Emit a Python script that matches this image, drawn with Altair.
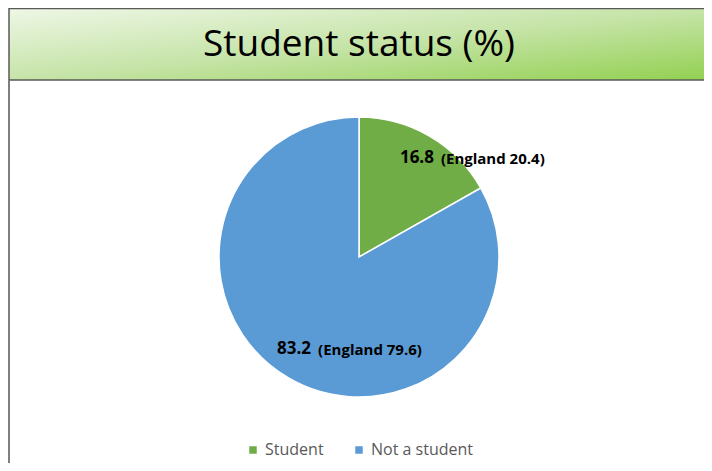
import altair as alt
import pandas as pd

# ---- data ----
categories = ["Student", "Not a student"]
values = [16.8, 83.2]
england = [20.4, 79.6]
colors = ["#70AD47", "#5B9BD5"]
title_text = "Student status (%)"

OX, OY = 8, 8  # page margin offset

df = pd.DataFrame({
    "category": categories,
    "value": values,
    "idx": list(range(len(categories))),
    "label": [f"{v}" for v in values],
    "eng": [f"(England {e})" for e in england],
})
one = pd.DataFrame({"a": [0]})

W, H = 712 - 2 * OX, 471 - 2 * OY
cx, cy, R = 359 - OX, 257 - OY, 140

gradient = alt.LinearGradient(
    gradient="linear",
    stops=[alt.GradientStop(color="#EEF7E6", offset=0),
           alt.GradientStop(color="#C6E4A8", offset=0.5),
           alt.GradientStop(color="#92D050", offset=1)],
    x1=0, x2=1, y1=0, y2=1,
)

banner = alt.Chart(one).mark_rect(color=gradient, stroke="#595959", strokeWidth=1.5).encode(
    x=alt.value(1), x2=alt.value(W + 10), y=alt.value(0.5), y2=alt.value(80 - OY)
)
left_border = alt.Chart(one).mark_rule(color="#7F7F7F", strokeWidth=2).encode(
    x=alt.value(1), y=alt.value(80 - OY), y2=alt.value(H + 10)
)
title = alt.Chart(one).mark_text(
    text=title_text, font="Open Sans", fontSize=37, color="#000000", align="center", baseline="middle"
).encode(x=alt.value(359 - OX), y=alt.value(45 - OY))

color_scale = alt.Scale(domain=categories, range=colors)

pie = alt.Chart(df).mark_arc(radius=R, stroke="white", strokeWidth=1.5).encode(
    theta=alt.Theta("value:Q", stack=True),
    color=alt.Color(
        "category:N", scale=color_scale,
        legend=alt.Legend(
            title=None, orient="none", direction="horizontal",
            legendX=245 - OX, legendY=442 - OY,
            symbolType="square", symbolSize=56, symbolStrokeWidth=0,
            labelFont="Open Sans", labelFontSize=16, labelColor="#595959",
            labelOffset=4, columnPadding=27,
        ),
    ),
    order=alt.Order("idx:Q"),
    x=alt.value(cx), y=alt.value(cy),
)


# stack needs the full data, so every label layer keeps both rows and hides the other one
def label_layers():
    out = []
    for i, (dx, dy) in enumerate([(0, 0), (-7, -7)]):
        enc = dict(
            theta=alt.Theta("value:Q", stack=True),
            order=alt.Order("idx:Q"),
            x=alt.value(cx), y=alt.value(cy),
            opacity=alt.condition(alt.datum.idx == i, alt.value(1), alt.value(0)),
            color=alt.value("#000000"),
        )
        v = alt.Chart(df).mark_text(
            radius=115, font="Open Sans", fontSize=17, fontWeight="bold",
            align="center", baseline="middle", dx=dx, dy=dy,
        ).encode(text="label:N", **enc)
        e = alt.Chart(df).mark_text(
            radius=115, font="Open Sans", fontSize=15, fontWeight="bold",
            align="left", baseline="middle", dx=dx + 24, dy=dy + 1,
        ).encode(text="eng:N", **enc)
        out += [v, e]
    return out


chart = alt.layer(banner, left_border, title, pie, *label_layers()).properties(
    width=W, height=H, padding=0, autosize=alt.AutoSizeParams(type="none")
).configure_view(stroke=None)

chart.save("out.html", embed_options={"renderer": "svg", "actions": False})
